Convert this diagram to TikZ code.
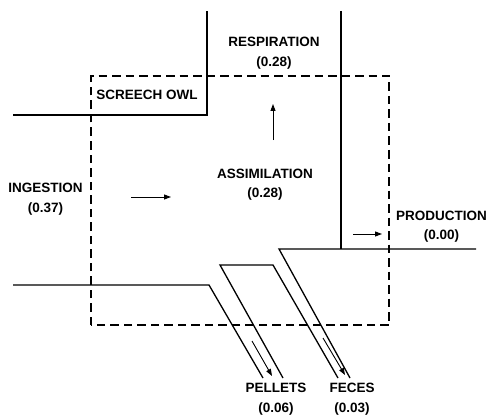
\documentclass[tikz,border=0pt]{standalone}
\usepackage{fontspec}
\setmainfont{Liberation Sans}
\usetikzlibrary{arrows.meta}

\begin{document}
\begin{tikzpicture}[x=1pt, y=-1pt,
  flowlbl/.style={align=center, inner sep=0pt,
    font=\fontsize{13.5}{19.5}\selectfont\bfseries},
  wall/.style={line width=1.3pt},
  bound/.style={line width=1.2pt, dash pattern=on 8.5pt off 5pt},
  flow/.style={-{Triangle[length=7pt,width=5pt]}, line width=0.9pt}
]
\useasboundingbox (0,0) rectangle (494,414);

% system boundary
\coordinate (bl) at (91,325);
\coordinate (tr) at (389,76);
\draw[bound] (bl) rectangle (tr);

% walls of the channels
\coordinate (inA) at (13,115);
\coordinate (inB) at (207,115);
\coordinate (inC) at (207,11);
\coordinate (reA) at (341,11);
\coordinate (reB) at (341,249);
\coordinate (prA) at (279,249);
\coordinate (prB) at (476,249);
\coordinate (feA) at (350,378);
\coordinate (loA) at (13,285);
\coordinate (loB) at (209,285);
\coordinate (loC) at (263,378);
\coordinate (peA) at (220,265);
\coordinate (peB) at (283,378);
\coordinate (peC) at (273,265);
\coordinate (peD) at (338,378);

\draw[wall] (inA) -- (inB) -- (inC);
\draw[wall] (reA) -- (reB);
\draw[wall] (prB) -- (prA) -- (feA);
\draw[wall] (loA) -- (loB) -- (loC);
\draw[wall] (peB) -- (peA) -- (peC) -- (peD);

% labels
\node[flowlbl] (owl) at (147,95) {SCREECH OWL};
\node[flowlbl] (resp) at (274,53) {RESPIRATION\\(0.28)};
\node[flowlbl] (assim) at (265,184.5) {ASSIMILATION\\(0.28)};
\node[flowlbl] (ing) at (45.5,199) {INGESTION\\(0.37)};
\node[flowlbl] (prod) at (441.5,226.5) {PRODUCTION\\(0.00)};
\node[flowlbl] (pel) at (276,399) {PELLETS\\(0.06)};
\node[flowlbl] (fec) at (352,399) {FECES\\(0.03)};

% flow arrows
\coordinate (ingS) at (131,197);
\coordinate (ingE) at (171,197);
\coordinate (resS) at (273,140);
\coordinate (resE) at (273,104);
\coordinate (proS) at (353,234);
\coordinate (proE) at (382,234);
\coordinate (pelS) at (252,341);
\coordinate (pelE) at (272,376);
\coordinate (fecS) at (323,338);
\coordinate (fecE) at (345,375);

\draw[flow] (ingS) -- (ingE);
\draw[flow] (resS) -- (resE);
\draw[flow] (proS) -- (proE);
\draw[flow] (pelS) -- (pelE);
\draw[flow] (fecS) -- (fecE);
\end{tikzpicture}
\end{document}
